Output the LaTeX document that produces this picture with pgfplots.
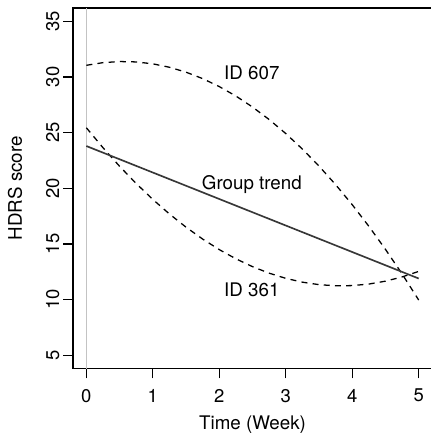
\documentclass[border=0pt]{standalone}
\usepackage{fontspec}
\setmainfont{TeX Gyre Heros}
\usepackage{pgfplots}
\pgfplotsset{compat=1.18}

\begin{document}
\begin{tikzpicture}
\useasboundingbox (-48.7pt,-44.2pt) rectangle (238pt,245.8pt);
\begin{axis}[
  at={(0pt,0pt)}, anchor=south west,
  scale only axis,
  width=239.3pt, height=240.5pt,
  xmin=-0.2, xmax=5.2, ymin=3.8, ymax=36.2,
  xtick={0,1,2,3,4,5},
  ytick={5,10,15,20,25,30,35},
  xtick pos=bottom, ytick pos=left,
  tick align=outside,
  major tick length=6.5pt,
  tick style={line width=0.8pt, black},
  axis line style={line width=0.9pt, black},
  tick label style={font=\fontsize{12.3}{14}\selectfont},
  xticklabel style={yshift=-3.5pt},
  yticklabel style={rotate=90, anchor=south, yshift=-1pt},
  /pgf/number format/assume math mode=true,
  xlabel={Time (Week)},
  ylabel={HDRS score},
  label style={font=\fontsize{12.5}{14}\selectfont},
  xlabel style={at={(axis description cs:0.5,0)}, anchor=center, yshift=-37.5pt},
  ylabel style={at={(axis description cs:0,0.5)}, anchor=center, rotate=0, xshift=0pt, yshift=38.7pt},
  clip=false,
]
% reference line at baseline
\addplot[line width=1.1pt, color={rgb,255:red,195;green,195;blue,195}] coordinates {(0,3.8) (0,36.2)};

% individual trajectory, ID 607
\addplot[line width=0.85pt, black, dash pattern=on 4pt off 3.5pt] coordinates {
(0,31.050) (0.25,31.287) (0.5,31.387) (0.75,31.352) (1,31.181)
(1.25,30.874) (1.5,30.431) (1.75,29.853) (2,29.138) (2.25,28.288)
(2.5,27.301) (2.75,26.179) (3,24.921) (3.25,23.527) (3.5,21.997)
(3.75,20.332) (4,18.530) (4.25,16.592) (4.5,14.519) (4.75,12.311)
(5,9.965)};

% individual trajectory, ID 361
\addplot[line width=0.85pt, black, dash pattern=on 4pt off 3.5pt] coordinates {
(0,25.440) (0.25,23.650) (0.5,21.981) (0.75,20.432) (1,19.004)
(1.25,17.696) (1.5,16.509) (1.75,15.442) (2,14.496) (2.25,13.670)
(2.5,12.965) (2.75,12.380) (3,11.916) (3.25,11.572) (3.5,11.349)
(3.75,11.246) (4,11.264) (4.25,11.402) (4.5,11.661) (4.75,12.040)
(5,12.540)};

% group trend
\addplot[line width=1.1pt, color={rgb,255:red,55;green,55;blue,55}] coordinates {(0,23.8) (5,11.9)};

\node[font=\fontsize{12.5}{14}\selectfont] at (axis cs:2.49,30.35) {ID 607};
\node[font=\fontsize{12.5}{14}\selectfont] at (axis cs:2.49,20.38) {Group trend};
\node[font=\fontsize{12.5}{14}\selectfont] at (axis cs:2.49,10.86) {ID 361};
\end{axis}
\end{tikzpicture}
\end{document}
